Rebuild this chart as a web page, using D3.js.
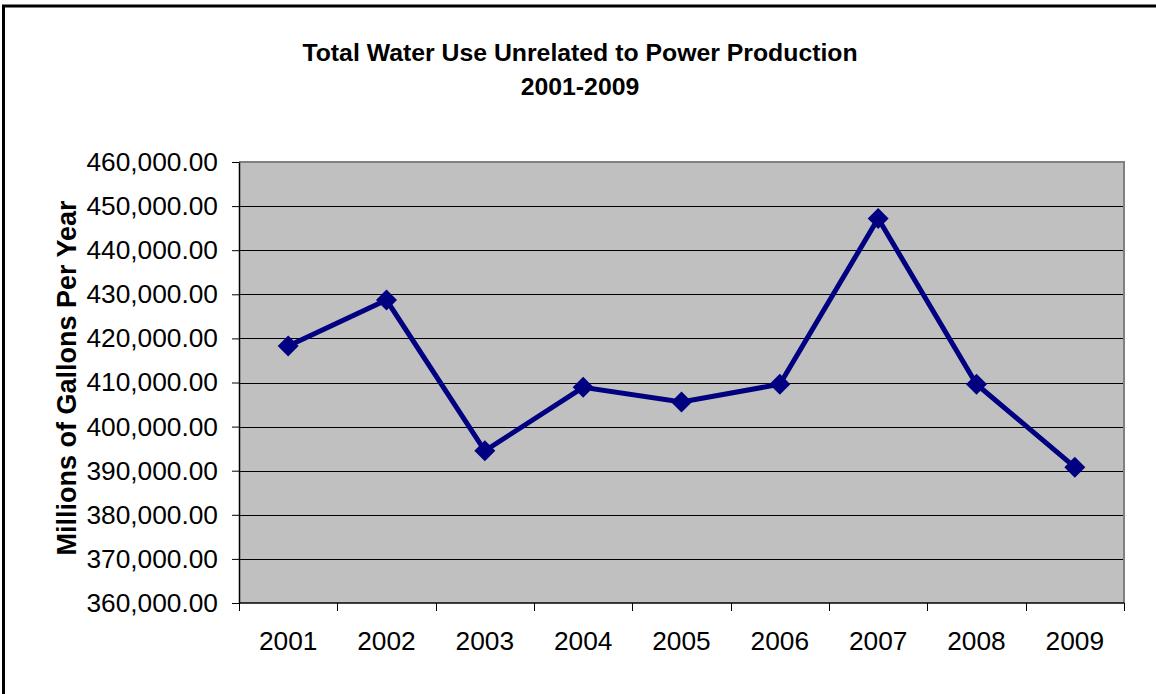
<!DOCTYPE html>
<html>
<head>
<meta charset="utf-8">
<script src="https://cdn.jsdelivr.net/npm/d3@7"></script>
<style>
  html, body { margin: 0; padding: 0; background: #fff; }
  svg { display: block; font-family: "Liberation Sans", Arial, sans-serif; }
</style>
</head>
<body>
<svg id="chart" width="1156" height="694"></svg>
<script>
// Water use by year (millions of gallons)
const years = ["2001", "2002", "2003", "2004", "2005", "2006", "2007", "2008", "2009"];
const waterUse = [418300, 428700, 394500, 408900, 405600, 409600, 447200, 409600, 390800];
const yTicks = [360000, 370000, 380000, 390000, 400000, 410000, 420000, 430000, 440000, 450000, 460000];
const titleLines = ["Total Water Use Unrelated to Power Production", "2001-2009"];
const yAxisTitle = "Millions of Gallons Per Year";

const svg = d3.select("#chart");
const plot = { left: 239, top: 162, right: 1124, bottom: 603 };

// Outer chart frame (extends past the bottom/right edge)
svg.append("rect")
  .attr("x", 3.5).attr("y", 6)
  .attr("width", 1200).attr("height", 750)
  .attr("fill", "none").attr("stroke", "#000").attr("stroke-width", 3);

const x = d3.scaleBand().domain(years).range([plot.left, plot.right]).padding(0);
const y = d3.scaleLinear().domain([360000, 460000]).range([plot.bottom, plot.top]);

// Plot background
svg.append("rect")
  .attr("x", plot.left).attr("y", plot.top)
  .attr("width", plot.right - plot.left).attr("height", plot.bottom - plot.top)
  .attr("fill", "#c0c0c0");

// Horizontal gridlines
svg.append("g")
  .selectAll("line")
  .data(yTicks.filter(t => t > 360000 && t < 460000))
  .join("line")
  .attr("x1", plot.left).attr("x2", plot.right)
  .attr("y1", d => Math.round(y(d)) + 0.5).attr("y2", d => Math.round(y(d)) + 0.5)
  .attr("stroke", "#000").attr("stroke-width", 1);

// Top and right plot border
svg.append("path")
  .attr("d", `M${plot.left},${plot.top} H${plot.right} V${plot.bottom}`)
  .attr("fill", "none").attr("stroke", "#808080").attr("stroke-width", 2);

// Y axis
const fmt = d3.format(",.2f");
const yAxis = svg.append("g")
  .attr("transform", `translate(${plot.left},0)`)
  .call(d3.axisLeft(y).tickValues(yTicks).tickFormat(fmt).tickSize(7).tickSizeOuter(0).tickPadding(14));
yAxis.select(".domain").attr("stroke", "#000").attr("stroke-width", 1.5);
yAxis.selectAll(".tick line").attr("stroke", "#000");
yAxis.selectAll("text")
  .attr("font-size", 26.3).attr("fill", "#000")
  .attr("font-family", "'Liberation Sans', Arial, sans-serif");

// X axis: ticks at category boundaries
const xg = svg.append("g").attr("transform", `translate(0,${plot.bottom})`);
xg.append("line")
  .attr("x1", plot.left).attr("x2", plot.right)
  .attr("stroke", "#000").attr("stroke-width", 1.5);
const boundaries = years.map(d => x(d)).concat([plot.right]);
xg.selectAll("line.tk")
  .data(boundaries)
  .join("line").attr("class", "tk")
  .attr("x1", d => Math.round(d) + 0.5).attr("x2", d => Math.round(d) + 0.5)
  .attr("y1", 0).attr("y2", 8)
  .attr("stroke", "#000").attr("stroke-width", 1);
xg.selectAll("text")
  .data(years)
  .join("text")
  .attr("x", d => x(d) + x.bandwidth() / 2)
  .attr("y", 47)
  .attr("text-anchor", "middle")
  .attr("font-size", 26.3).attr("fill", "#000")
  .text(d => d);

// Data line
const pts = years.map((d, i) => [x(d) + x.bandwidth() / 2, y(waterUse[i])]);
svg.append("path")
  .attr("d", d3.line()(pts))
  .attr("fill", "none").attr("stroke", "#000080").attr("stroke-width", 5)
  .attr("stroke-linejoin", "miter");

// Diamond markers
const diamond = d3.symbol().type(d3.symbolSquare).size(220);
svg.append("g")
  .selectAll("path")
  .data(pts)
  .join("path")
  .attr("d", diamond)
  .attr("transform", d => `translate(${d[0]},${d[1]}) rotate(45)`)
  .attr("fill", "#000080");

// Title
svg.append("text")
  .attr("x", 580).attr("text-anchor", "middle")
  .attr("font-size", 24.8).attr("font-weight", "bold").attr("fill", "#000")
  .selectAll("tspan")
  .data(titleLines)
  .join("tspan")
  .attr("x", 580)
  .attr("y", (d, i) => 61 + i * 34)
  .text(d => d);

// Y axis title
svg.append("text")
  .attr("transform", `translate(76,378) rotate(-90)`)
  .attr("text-anchor", "middle")
  .attr("font-size", 27).attr("font-weight", "bold").attr("fill", "#000")
  .text(yAxisTitle);
</script>
</body>
</html>
